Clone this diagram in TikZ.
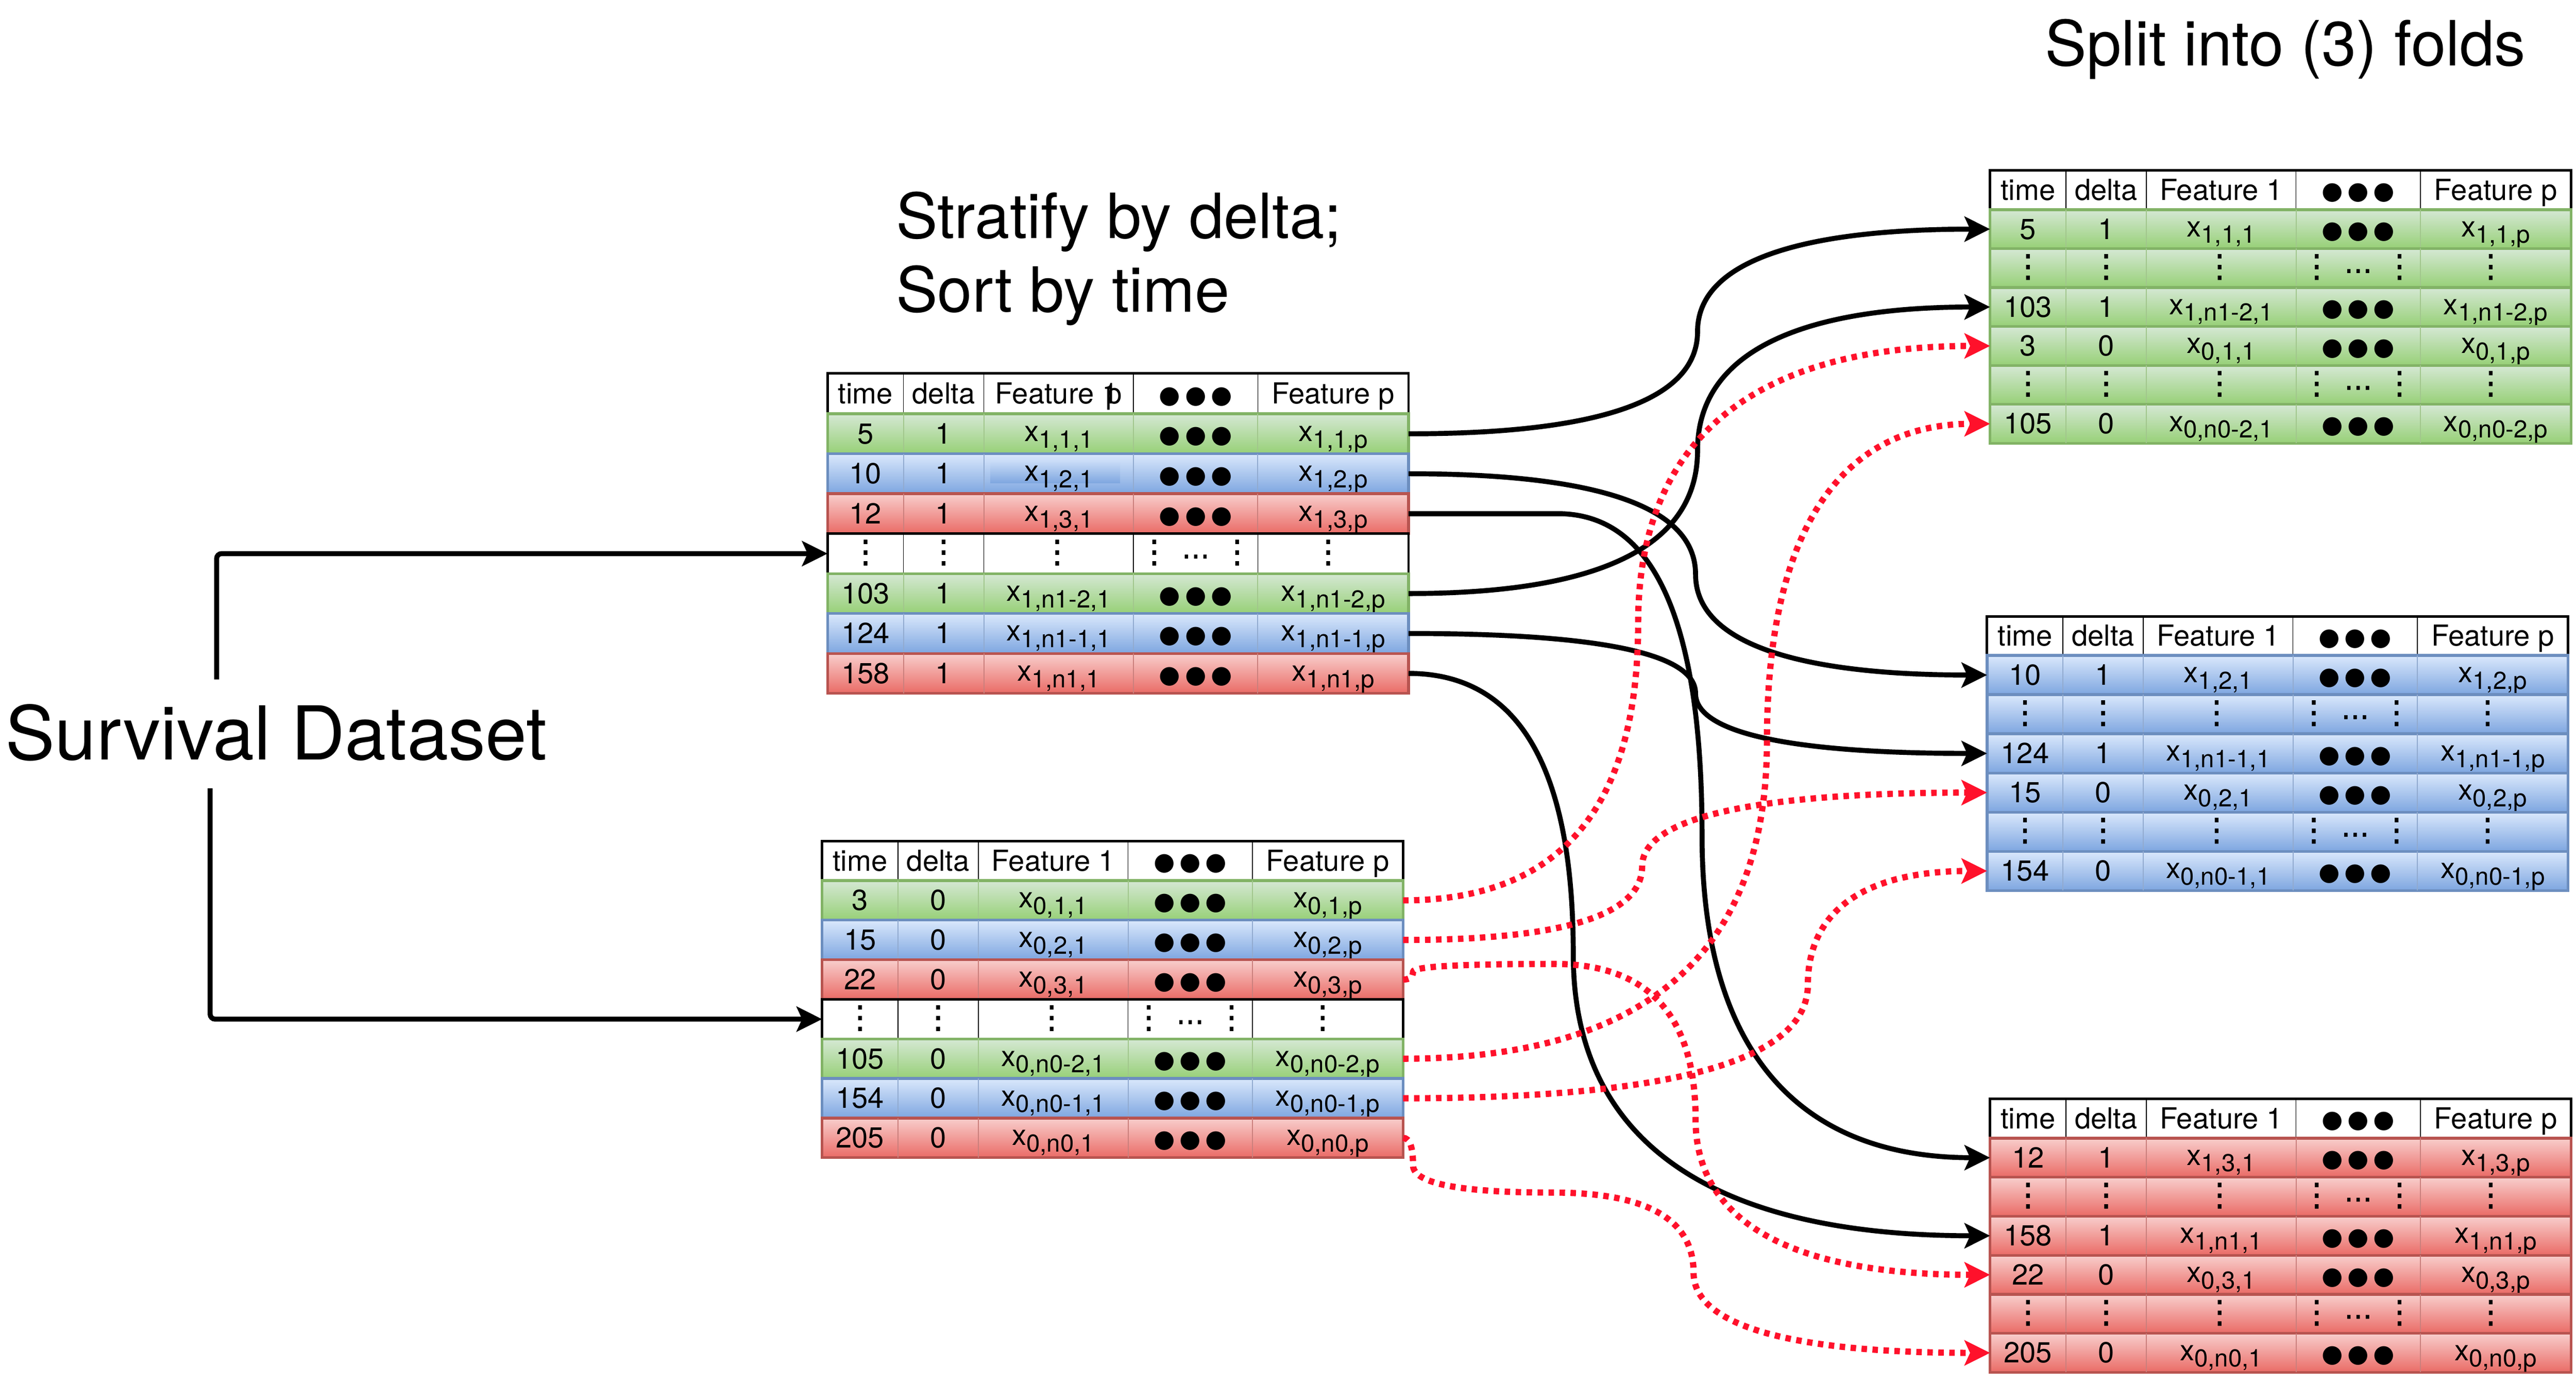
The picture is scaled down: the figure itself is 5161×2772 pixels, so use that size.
\documentclass[tikz,border=0pt]{standalone}
\usepackage{fontspec}
\setmainfont{TeX Gyre Heros}
\newfontfamily\symf{DejaVu Sans}
\newfontfamily\symfb{DejaVu Sans}[FakeBold=1.6]
\usetikzlibrary{arrows.meta,calc}
\definecolor{gtop}{HTML}{D5E8D4}\definecolor{gbot}{HTML}{97D077}\definecolor{gstr}{HTML}{82B366}
\definecolor{btop}{HTML}{DAE8FC}\definecolor{bbot}{HTML}{7EA6E0}\definecolor{bstr}{HTML}{6C8EBF}
\definecolor{rtop}{HTML}{F8CECC}\definecolor{rbot}{HTML}{EA6B66}\definecolor{rstr}{HTML}{B85450}
\definecolor{myred}{RGB}{255,17,43}
\newcommand\xs[1]{x\raisebox{-1.3pt}{\fontsize{4.9}{6}\selectfont #1}}
\newcommand\bigdotstext{●\kern0.9pt●\kern0.9pt●}
\tikzset{
  txt/.style={anchor=base, inner sep=0pt, font=\fontsize{5.8}{7}\selectfont},
  bigd/.style={anchor=center, inner sep=0pt, font=\symf\fontsize{4.9}{6}\selectfont},
  vdt/.style={anchor=center, inner sep=0pt, font=\symfb\fontsize{6.3}{7}\selectfont},
  hdt/.style={anchor=center, inner sep=0pt, font=\symfb\fontsize{5.6}{7}\selectfont},
  rowbase/.style={minimum width=116.4pt, inner sep=0pt, outer sep=0pt},
  rowg/.style={rowbase, draw=gstr, top color=gtop, bottom color=gbot, line width=0.55pt},
  rowb/.style={rowbase, draw=bstr, top color=btop, bottom color=bbot, line width=0.55pt},
  rowr/.style={rowbase, draw=rstr, top color=rtop, bottom color=rbot, line width=0.55pt},
  roww/.style={rowbase, draw=black, fill=white, line width=0.5pt},
  rowgsep/.style={draw=gstr!75, line width=0.2pt},
  rowbsep/.style={draw=bstr!75, line width=0.2pt},
  rowrsep/.style={draw=rstr!75, line width=0.2pt},
  rowwsep/.style={draw=black, line width=0.15pt},
  hdrbox/.style={rowbase, draw=black, fill=white, line width=0.5pt},
  blk/.style={line width=1pt, draw=black, -{Stealth[length=5.1pt,width=5pt,inset=1.1pt]}},
  redd/.style={line width=1.25pt, draw=myred, dash pattern=on 1.1pt off 1.1pt,
    -{Stealth[length=5.1pt,width=5pt,inset=1.1pt,fill=myred]}},
  ttl/.style={inner sep=0pt, font=\fontsize{12.5}{14.8}\selectfont},
}
% header: name, x0, y0, h, feature-1 text
\newcommand\hdr[5]{%
  \node[hdrbox, minimum height={#4*0.1pt}] (#1) at ({#2+582},{#3+#4/2}) {};
  \foreach \sx in {152,313,613,862} \draw[rowwsep] ({#2+\sx},#3) -- ++(0,#4);
  \node[txt] (#1a) at ({#2+76},{#3+#4/2+20}) {time};
  \node[txt] (#1b) at ({#2+232.5},{#3+#4/2+20}) {delta};
  \node[txt] (#1c) at ({#2+463},{#3+#4/2+20}) {#5};
  \node[bigd] (#1d) at ({#2+737.5},{#3+#4/2+6}) {\bigdotstext};
  \node[txt] (#1e) at ({#2+1013},{#3+#4/2+20}) {Feature p};
}
% data row: name, style, x0, y0, h, time, delta, f1, fp
\newcommand\drow[9]{%
  \node[#2, minimum height={#5*0.1pt}] (#1) at ({#3+582},{#4+#5/2}) {};
  \foreach \sx in {152,313,613,862} \draw[#2sep] ({#3+\sx},#4) -- ++(0,#5);
  \node[txt] (#1a) at ({#3+76},{#4+#5/2+20}) {#6};
  \node[txt] (#1b) at ({#3+232.5},{#4+#5/2+20}) {#7};
  \node[txt] (#1c) at ({#3+463},{#4+#5/2+15}) {#8};
  \node[bigd] (#1d) at ({#3+737.5},{#4+#5/2+6}) {\bigdotstext};
  \node[txt] (#1e) at ({#3+1013},{#4+#5/2+15}) {#9};
}
% dots row: name, style, x0, y0, h
\newcommand\vrow[5]{%
  \node[#2, minimum height={#5*0.1pt}] (#1) at ({#3+582},{#4+#5/2}) {};
  \foreach \sx in {152,313,613,862} \draw[#2sep] ({#3+\sx},#4) -- ++(0,#5);
  \node[vdt] (#1a) at ({#3+76},{#4+#5/2-2}) {⋮};
  \node[vdt] (#1b) at ({#3+232.5},{#4+#5/2-2}) {⋮};
  \node[vdt] (#1c) at ({#3+460},{#4+#5/2-2}) {⋮};
  \node[vdt] (#1d) at ({#3+654.5},{#4+#5/2-2}) {⋮};
  \node[hdt] (#1e) at ({#3+737.5},{#4+#5/2+6}) {…};
  \node[vdt] (#1f) at ({#3+820.5},{#4+#5/2-2}) {⋮};
  \node[vdt] (#1g) at ({#3+1003},{#4+#5/2-2}) {⋮};
}
% draw.io-like curved connector (quadratic pieces): style, start, end, x of vertical run
\newcommand\dcurve[4]{%
  \coordinate (qA) at (#2);
  \coordinate (qB) at (#3);
  \coordinate (qX) at (#4,0);
  \coordinate (q2) at (qA -| qX);
  \coordinate (q3) at (qB -| qX);
  \coordinate (m23) at ($(q2)!0.5!(q3)$);
  \draw[#1] (#2)
    .. controls ($(qA)!0.6667!(q2)$) and ($(m23)!0.6667!(q2)$) .. (m23)
    .. controls ($(m23)!0.6667!(q3)$) and ($(qB)!0.6667!(q3)$) .. (#3);
}
% same, with a straight lead-out from the start
\newcommand\dcurvej[4]{%
  \coordinate (qA) at (#2);
  \coordinate (qB) at (#3);
  \coordinate (qX) at (#4,0);
  \coordinate (q1) at ($(qA)+(10,0)$);
  \coordinate (q2) at (qA -| qX);
  \coordinate (q3) at (qB -| qX);
  \coordinate (m12) at ($(q1)!0.5!(q2)$);
  \coordinate (m23) at ($(q2)!0.5!(q3)$);
  \draw[#1] (#2) -- (m12)
    .. controls ($(m12)!0.6667!(q2)$) and ($(m23)!0.6667!(q2)$) .. (m23)
    .. controls ($(m23)!0.6667!(q3)$) and ($(qB)!0.6667!(q3)$) .. (#3);
}
% with a first horizontal level yl: style, start, end, yl, x
\newcommand\dcurvey[5]{%
  \coordinate (qA) at (#2);
  \coordinate (qB) at (#3);
  \coordinate (qY) at (0,#4);
  \coordinate (qX) at (#5,0);
  \coordinate (q1) at ($(qA)+(20,0)$);
  \coordinate (q2) at (q1 |- qY);
  \coordinate (q3) at (qY -| qX);
  \coordinate (q4) at (qB -| qX);
  \coordinate (m12) at ($(q1)!0.5!(q2)$);
  \coordinate (m23) at ($(q2)!0.5!(q3)$);
  \coordinate (m34) at ($(q3)!0.5!(q4)$);
  \draw[#1] (#2)
    .. controls ($(qA)!0.6667!(q1)$) and ($(m12)!0.6667!(q1)$) .. (m12)
    .. controls ($(m12)!0.6667!(q2)$) and ($(m23)!0.6667!(q2)$) .. (m23)
    .. controls ($(m23)!0.6667!(q3)$) and ($(m34)!0.6667!(q3)$) .. (m34)
    .. controls ($(m34)!0.6667!(q4)$) and ($(qB)!0.6667!(q4)$) .. (#3);
}
\begin{document}
\begin{tikzpicture}[x=0.1pt,y=-0.1pt]
\useasboundingbox (0,0) rectangle (5161,2772);
% titles
\node[ttl, anchor=base west] (split) at (4095,132) {Split into (3) folds};
\node[ttl, anchor=north west, align=left] (strat) at (1793,382) {Stratify by delta;\\Sort by time};
\node[inner sep=0pt, anchor=base west, font=\fontsize{14.9}{17}\selectfont] (sd) at (9,1522) {Survival Dataset};
% table delta = 1
\hdr{th}{1658}{748}{81}{Feature 1\kern-0.42em p}
\drow{a1}{rowg}{1658}{829}{80}{5}{1}{\xs{1,1,1}}{\xs{1,1,p}}
\drow{a2}{rowb}{1658}{909}{80}{10}{1}{}{\xs{1,2,p}}
\fill[top color=btop!90!bbot, bottom color=bbot] (1984,919) rectangle (2244,968);
\node[txt] (a2cc) at (2121,964) {\xs{1,2,1}};
\drow{a3}{rowr}{1658}{989}{80}{12}{1}{\xs{1,3,1}}{\xs{1,3,p}}
\vrow{a4}{roww}{1658}{1069}{80}
\drow{a5}{rowg}{1658}{1149}{80}{103}{1}{\xs{1,n1-2,1}}{\xs{1,n1-2,p}}
\drow{a6}{rowb}{1658}{1229}{80}{124}{1}{\xs{1,n1-1,1}}{\xs{1,n1-1,p}}
\drow{a7}{rowr}{1658}{1309}{80}{158}{1}{\xs{1,n1,1}}{\xs{1,n1,p}}
% table delta = 0
\hdr{tz}{1647}{1685}{79}{Feature 1}
\drow{b1}{rowg}{1647}{1764}{79.3}{3}{0}{\xs{0,1,1}}{\xs{0,1,p}}
\drow{b2}{rowb}{1647}{1843.3}{79.3}{15}{0}{\xs{0,2,1}}{\xs{0,2,p}}
\drow{b3}{rowr}{1647}{1922.6}{79.3}{22}{0}{\xs{0,3,1}}{\xs{0,3,p}}
\vrow{b4}{roww}{1647}{2001.9}{79.3}
\drow{b5}{rowg}{1647}{2081.2}{79.3}{105}{0}{\xs{0,n0-2,1}}{\xs{0,n0-2,p}}
\drow{b6}{rowb}{1647}{2160.5}{79.3}{154}{0}{\xs{0,n0-1,1}}{\xs{0,n0-1,p}}
\drow{b7}{rowr}{1647}{2239.8}{79.3}{205}{0}{\xs{0,n0,1}}{\xs{0,n0,p}}
% fold 1
\hdr{fa}{3987}{341}{79}{Feature 1}
\drow{f1r1}{rowg}{3987}{420}{78}{5}{1}{\xs{1,1,1}}{\xs{1,1,p}}
\vrow{f1r2}{rowg}{3987}{498}{78}
\drow{f1r3}{rowg}{3987}{576}{78}{103}{1}{\xs{1,n1-2,1}}{\xs{1,n1-2,p}}
\drow{f1r4}{rowg}{3987}{654}{78}{3}{0}{\xs{0,1,1}}{\xs{0,1,p}}
\vrow{f1r5}{rowg}{3987}{732}{78}
\drow{f1r6}{rowg}{3987}{810}{78}{105}{0}{\xs{0,n0-2,1}}{\xs{0,n0-2,p}}
% fold 2
\hdr{fb}{3981}{1235}{78}{Feature 1}
\drow{f2r1}{rowb}{3981}{1313}{78.5}{10}{1}{\xs{1,2,1}}{\xs{1,2,p}}
\vrow{f2r2}{rowb}{3981}{1391.5}{78.5}
\drow{f2r3}{rowb}{3981}{1470}{78.5}{124}{1}{\xs{1,n1-1,1}}{\xs{1,n1-1,p}}
\drow{f2r4}{rowb}{3981}{1548.5}{78.5}{15}{0}{\xs{0,2,1}}{\xs{0,2,p}}
\vrow{f2r5}{rowb}{3981}{1627}{78.5}
\drow{f2r6}{rowb}{3981}{1705.5}{78.5}{154}{0}{\xs{0,n0-1,1}}{\xs{0,n0-1,p}}
% fold 3
\hdr{fc}{3987}{2201}{79}{Feature 1}
\drow{f3r1}{rowr}{3987}{2280}{78.2}{12}{1}{\xs{1,3,1}}{\xs{1,3,p}}
\vrow{f3r2}{rowr}{3987}{2358.2}{78.2}
\drow{f3r3}{rowr}{3987}{2436.4}{78.2}{158}{1}{\xs{1,n1,1}}{\xs{1,n1,p}}
\drow{f3r4}{rowr}{3987}{2514.6}{78.2}{22}{0}{\xs{0,3,1}}{\xs{0,3,p}}
\vrow{f3r5}{rowr}{3987}{2592.8}{78.2}
\drow{f3r6}{rowr}{3987}{2671}{78.2}{205}{0}{\xs{0,n0,1}}{\xs{0,n0,p}}
% dataset arrows
\coordinate (sdt) at (434,1361);
\coordinate (sdb) at (421,1579);
\draw[blk, rounded corners=1pt] (sdt) |- (a4.west);
\draw[blk, rounded corners=1pt] (sdb) |- (b4.west);
% event rows (delta = 1)
\dcurve{blk}{a1.east}{f1r1.west}{3401}
\dcurve{blk}{a2.east}{f2r1.west}{3397}
\dcurvej{blk}{a3.east}{f3r1.west}{3410}
\dcurve{blk}{a5.east}{f1r3.west}{3401}
\dcurve{blk}{a6.east}{f2r3.west}{3397}
\dcurve{blk}{a7.east}{f3r3.west}{3152}
% censored rows (delta = 0)
\dcurve{redd}{b1.east}{f1r4.west}{3282}
\dcurve{redd}{b2.east}{f2r4.west}{3290}
\dcurvey{redd}{b3.east}{f3r4.west}{1931}{3397}
\dcurve{redd}{b5.east}{f1r6.west}{3540}
\dcurve{redd}{b6.east}{f2r6.west}{3622}
\dcurvey{redd}{b7.east}{f3r6.west}{2389}{3393}
\end{tikzpicture}
\end{document}
